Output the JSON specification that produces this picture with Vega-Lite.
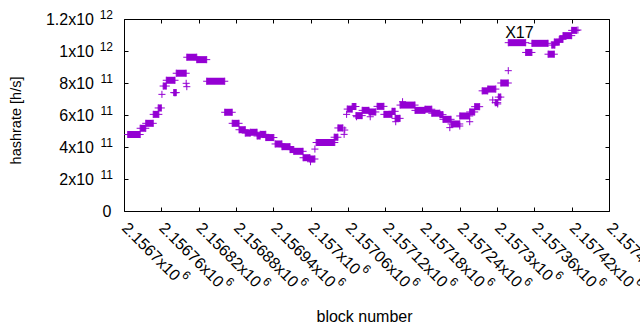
{
  "$schema": "https://vega.github.io/schema/vega-lite/v6.json",
  "width": 485,
  "height": 192,
  "autosize": {"type": "none"},
  "padding": {"left": 124, "top": 19, "right": 31, "bottom": 119},
  "background": "white",
  "config": {
    "view": {"stroke": "#000", "strokeWidth": 1},
    "font": "Liberation Sans",
    "axis": {"domain": false, "grid": false, "labelFont": "Liberation Sans", "labelFontSize": 16, "labelColor": "#000", "tickColor": "#000", "tickSize": -4, "tickWidth": 1, "titleFont": "Liberation Sans", "titleFontSize": 16, "titleFontWeight": "normal", "titleColor": "#000", "labelOverlap": false, "labelBound": false, "labelFlush": false}
  },
  "datasets": {
    "runs": [
      {"b0": 2156706, "b1": 2156726, "h": 4.78e11},
      {"b0": 2156726, "b1": 2156735, "h": 5.17e11},
      {"b0": 2156735, "b1": 2156747, "h": 5.48e11},
      {"b0": 2156747, "b1": 2156756, "h": 6.04e11},
      {"b0": 2156755, "b1": 2156760, "h": 6.44e11},
      {"b0": 2156763, "b1": 2156768, "h": 7.81e11},
      {"b0": 2156768, "b1": 2156782, "h": 8.17e11},
      {"b0": 2156780, "b1": 2156784, "h": 7.40e11},
      {"b0": 2156784, "b1": 2156800, "h": 8.61e11},
      {"b0": 2156801, "b1": 2156817, "h": 9.61e11},
      {"b0": 2156817, "b1": 2156833, "h": 9.46e11},
      {"b0": 2156833, "b1": 2156862, "h": 8.11e11},
      {"b0": 2156862, "b1": 2156874, "h": 6.17e11},
      {"b0": 2156874, "b1": 2156885, "h": 5.48e11},
      {"b0": 2156885, "b1": 2156895, "h": 5.08e11},
      {"b0": 2156895, "b1": 2156903, "h": 4.87e11},
      {"b0": 2156903, "b1": 2156914, "h": 4.92e11},
      {"b0": 2156914, "b1": 2156919, "h": 4.69e11},
      {"b0": 2156919, "b1": 2156928, "h": 4.79e11},
      {"b0": 2156928, "b1": 2156941, "h": 4.59e11},
      {"b0": 2156943, "b1": 2156954, "h": 4.19e11},
      {"b0": 2156954, "b1": 2156967, "h": 4.02e11},
      {"b0": 2156967, "b1": 2156973, "h": 3.84e11},
      {"b0": 2156973, "b1": 2156988, "h": 3.73e11},
      {"b0": 2156988, "b1": 2156999, "h": 3.33e11},
      {"b0": 2156999, "b1": 2157007, "h": 3.25e11},
      {"b0": 2157009, "b1": 2157039, "h": 4.28e11},
      {"b0": 2157038, "b1": 2157044, "h": 4.61e11},
      {"b0": 2157044, "b1": 2157052, "h": 5.19e11},
      {"b0": 2157059, "b1": 2157067, "h": 6.37e11},
      {"b0": 2157067, "b1": 2157073, "h": 6.53e11},
      {"b0": 2157073, "b1": 2157083, "h": 5.96e11},
      {"b0": 2157083, "b1": 2157094, "h": 6.29e11},
      {"b0": 2157094, "b1": 2157105, "h": 6.19e11},
      {"b0": 2157107, "b1": 2157118, "h": 6.54e11},
      {"b0": 2157118, "b1": 2157131, "h": 6.04e11},
      {"b0": 2157131, "b1": 2157136, "h": 6.23e11},
      {"b0": 2157136, "b1": 2157144, "h": 5.79e11},
      {"b0": 2157144, "b1": 2157168, "h": 6.62e11},
      {"b0": 2157168, "b1": 2157184, "h": 6.29e11},
      {"b0": 2157184, "b1": 2157195, "h": 6.36e11},
      {"b0": 2157195, "b1": 2157208, "h": 6.11e11},
      {"b0": 2157208, "b1": 2157213, "h": 6.02e11},
      {"b0": 2157213, "b1": 2157226, "h": 5.73e11},
      {"b0": 2157226, "b1": 2157240, "h": 5.44e11},
      {"b0": 2157240, "b1": 2157256, "h": 5.94e11},
      {"b0": 2157256, "b1": 2157264, "h": 6.19e11},
      {"b0": 2157264, "b1": 2157272, "h": 6.52e11},
      {"b0": 2157276, "b1": 2157285, "h": 7.51e11},
      {"b0": 2157285, "b1": 2157298, "h": 7.62e11},
      {"b0": 2157297, "b1": 2157301, "h": 6.77e11},
      {"b0": 2157302, "b1": 2157306, "h": 7.12e11},
      {"b0": 2157306, "b1": 2157318, "h": 8.00e11},
      {"b0": 2157318, "b1": 2157346, "h": 1.052e12},
      {"b0": 2157346, "b1": 2157356, "h": 9.91e11},
      {"b0": 2157356, "b1": 2157382, "h": 1.048e12},
      {"b0": 2157382, "b1": 2157392, "h": 9.80e11},
      {"b0": 2157388, "b1": 2157393, "h": 1.037e12},
      {"b0": 2157392, "b1": 2157400, "h": 1.056e12},
      {"b0": 2157400, "b1": 2157406, "h": 1.073e12},
      {"b0": 2157406, "b1": 2157420, "h": 1.096e12},
      {"b0": 2157420, "b1": 2157428, "h": 1.129e12}
    ],
    "points": [
      {"b": 2156761, "h": 7.29e11},
      {"b": 2156782, "h": 7.39e11},
      {"b": 2156800, "h": 7.98e11},
      {"b": 2156801, "h": 7.77e11},
      {"b": 2157000, "h": 3.08e11},
      {"b": 2157007, "h": 3.87e11},
      {"b": 2157054, "h": 4.79e11},
      {"b": 2157055, "h": 5.06e11},
      {"b": 2157058, "h": 6.04e11},
      {"b": 2157074, "h": 5.89e11},
      {"b": 2157096, "h": 5.89e11},
      {"b": 2157137, "h": 5.58e11},
      {"b": 2157148, "h": 6.83e11},
      {"b": 2157224, "h": 5.21e11},
      {"b": 2157240, "h": 5.31e11},
      {"b": 2157256, "h": 5.58e11},
      {"b": 2157293, "h": 6.94e11},
      {"b": 2157301, "h": 6.69e11},
      {"b": 2157318, "h": 8.77e11},
      {"b": 2157430, "h": 1.131e12}
    ],
    "labels": [
      {"b": 2157313, "h": 1.081e12, "label": "X17"}
    ]
  },
  "resolve": {"axis": {"x": "independent", "y": "independent"}},
  "layer": [
    {
      "data": {"name": "runs"},
      "mark": {"type": "rule", "strokeWidth": 7, "strokeCap": "butt", "color": "#9400D3"},
      "encoding": {
        "x": {"field": "b0", "type": "quantitative",
          "scale": {"domain": [2156700, 2157480], "nice": false, "zero": false},
          "axis": {"orient": "bottom",
            "values": [2156700, 2156760, 2156820, 2156880, 2156940, 2157000, 2157060, 2157120, 2157180, 2157240, 2157300, 2157360, 2157420, 2157480],
            "labelExpr": "format(datum.value / 1000000, '.6~g') + 'x10'",
            "labelFontSize": 16,
            "labelAngle": 45, "labelAlign": "left", "labelBaseline": "middle", "labelPadding": 18,
            "title": "block number", "titleX": 240, "titleY": 105, "titleAlign": "center", "titleBaseline": "middle", "titleAngle": 0}},
        "x2": {"field": "b1"},
        "y": {"field": "h", "type": "quantitative",
          "scale": {"domain": [0, 1200000000000], "nice": false, "zero": true},
          "axis": {"orient": "left",
            "values": [0, 200000000000, 400000000000, 600000000000, 800000000000, 1000000000000, 1200000000000],
            "labelExpr": "datum.value == 0 ? '0' : ((datum.value >= 1000000000000 ? format(datum.value / 1000000000000, '~g') : format(datum.value / 100000000000, '~g')) + 'x10')",
            "labelPadding": {"condition": {"test": "datum.value == 0", "value": 17}, "value": 34.5},
            "labelBaseline": "middle",
            "title": "hashrate [h/s]", "titleFontSize": 14.5, "titleX": -108, "titleY": 101, "titleAngle": -90, "titleAlign": "center", "titleBaseline": "middle"}}
      }
    },
    {
      "data": {"name": "runs"},
      "transform": [{"fold": ["b0", "b1"], "as": ["end", "bb"]}],
      "mark": {"type": "point", "shape": "M-1,0H1M0,-1V1", "filled": false, "size": 50, "strokeWidth": 1, "color": "#9400D3", "opacity": 1},
      "encoding": {
        "x": {"field": "bb", "type": "quantitative",
          "axis": {"orient": "top", "labels": false, "title": null,
            "values": [2156700, 2156760, 2156820, 2156880, 2156940, 2157000, 2157060, 2157120, 2157180, 2157240, 2157300, 2157360, 2157420, 2157480]}},
        "y": {"field": "h", "type": "quantitative",
          "axis": {"orient": "right", "labels": false, "title": null,
            "values": [0, 200000000000, 400000000000, 600000000000, 800000000000, 1000000000000, 1200000000000]}}
      }
    },
    {
      "data": {"name": "points"},
      "mark": {"type": "point", "shape": "M-1,0H1M0,-1V1", "filled": false, "size": 50, "strokeWidth": 1, "color": "#9400D3", "opacity": 1},
      "encoding": {
        "x": {"field": "b", "type": "quantitative", "axis": null},
        "y": {"field": "h", "type": "quantitative",
          "axis": {"orient": "left", "ticks": false, "title": null,
            "values": [200000000000, 400000000000, 600000000000, 800000000000, 1000000000000, 1200000000000],
            "labelExpr": "datum.value >= 1000000000000 ? '12' : '11'",
            "labelFontSize": 12, "labelPadding": 11.5, "labelOffset": -4.5, "labelBaseline": "middle"}}
      }
    },
    {
      "data": {"name": "labels"},
      "mark": {"type": "text", "align": "left", "baseline": "alphabetic", "fontSize": 16, "font": "Liberation Sans", "color": "#000"},
      "encoding": {
        "x": {"field": "b", "type": "quantitative",
          "axis": {"orient": "bottom", "ticks": false, "title": null,
            "values": [2156700, 2156760, 2156820, 2156880, 2156940, 2157000, 2157060, 2157120, 2157180, 2157240, 2157300, 2157360, 2157420, 2157480],
            "labelExpr": "'6'",
            "labelFontSize": 12, "labelAngle": 45, "labelAlign": "left", "labelBaseline": "middle",
            "labelPadding": {"condition": [{"test": "datum.value == 2157000", "value": 55.2}, {"test": "datum.value == 2156700 || datum.value == 2157300", "value": 61.5}], "value": 67.8},
            "labelOffset": {"condition": [{"test": "datum.value == 2157000", "value": 53.2}, {"test": "datum.value == 2156700 || datum.value == 2157300", "value": 59.5}], "value": 65.8}}},
        "y": {"field": "h", "type": "quantitative", "axis": null},
        "text": {"field": "label"}
      }
    }
  ]
}
